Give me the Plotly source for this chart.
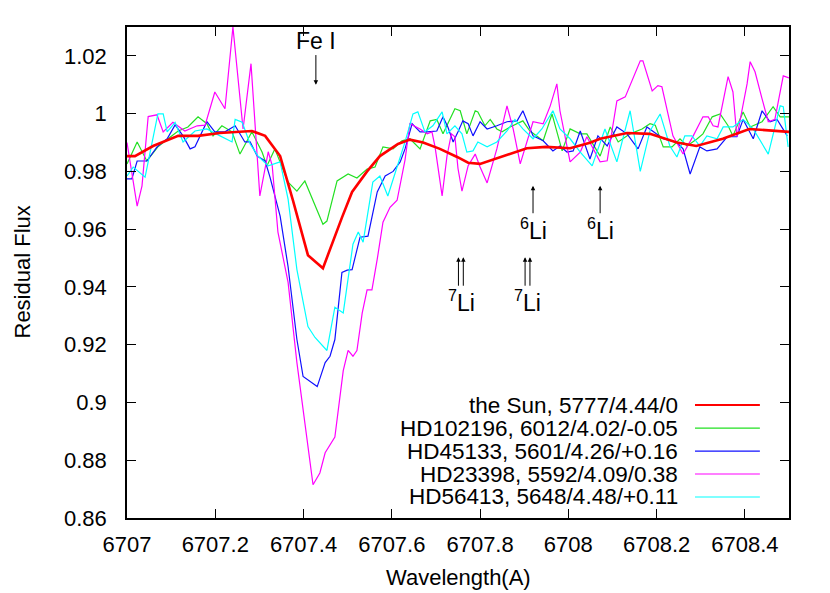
import plotly.graph_objects as go

# ---------------- data (wavelength [A], residual flux) ----------------
sun = [(6707.000, 0.9853), (6707.018, 0.9853), (6707.059, 0.9888), (6707.116, 0.9923),
       (6707.161, 0.9923), (6707.210, 0.9933), (6707.283, 0.9940), (6707.313, 0.9923),
       (6707.347, 0.9853), (6707.376, 0.9700), (6707.410, 0.9510), (6707.444, 0.9465),
       (6707.487, 0.9640), (6707.510, 0.9729), (6707.544, 0.9800), (6707.573, 0.9853),
       (6707.614, 0.9895), (6707.641, 0.9910), (6707.671, 0.9900), (6707.709, 0.9878),
       (6707.748, 0.9850), (6707.773, 0.9830), (6707.800, 0.9826), (6707.845, 0.9850),
       (6707.906, 0.9880), (6707.950, 0.9885), (6708.004, 0.9880), (6708.049, 0.9899),
       (6708.072, 0.9913), (6708.133, 0.9933), (6708.185, 0.9930), (6708.246, 0.9900),
       (6708.290, 0.9888), (6708.350, 0.9913), (6708.410, 0.9947), (6708.500, 0.9937)]

hd102196 = [(6707.000, 0.9826), (6707.023, 0.9902), (6707.045, 0.9836), (6707.070, 0.9885),
            (6707.093, 0.9913), (6707.116, 0.9940), (6707.138, 0.9954), (6707.161, 0.9989),
            (6707.181, 0.9965), (6707.195, 0.9923), (6707.215, 0.9958), (6707.238, 0.9937),
            (6707.256, 0.9860), (6707.283, 0.9937), (6707.306, 0.9867), (6707.317, 0.9819),
            (6707.335, 0.9878), (6707.365, 0.9763), (6707.385, 0.9732), (6707.403, 0.9767),
            (6707.444, 0.9617), (6707.453, 0.9628), (6707.476, 0.9767), (6707.501, 0.9791),
            (6707.521, 0.9777), (6707.544, 0.9808), (6707.562, 0.9815), (6707.580, 0.9885),
            (6707.603, 0.9878), (6707.623, 0.9906), (6707.641, 0.9913), (6707.664, 0.9878),
            (6707.687, 0.9975), (6707.702, 0.9980), (6707.716, 0.9930), (6707.743, 1.0017),
            (6707.755, 1.0010), (6707.770, 0.9930), (6707.789, 1.0010), (6707.795, 1.0006),
            (6707.811, 0.9958), (6707.823, 0.9980), (6707.838, 0.9947), (6707.850, 0.9937),
            (6707.868, 0.9954), (6707.897, 0.9975), (6707.913, 0.9940), (6707.943, 0.9906),
            (6707.963, 0.9999), (6707.986, 0.9871), (6708.004, 0.9947), (6708.027, 0.9930),
            (6708.042, 0.9930), (6708.072, 0.9853), (6708.095, 0.9954), (6708.113, 0.9902),
            (6708.140, 0.9930), (6708.167, 0.9947), (6708.185, 0.9965), (6708.197, 0.9960),
            (6708.215, 0.9885), (6708.235, 0.9885), (6708.253, 0.9913), (6708.269, 0.9888),
            (6708.292, 0.9913), (6708.305, 0.9930), (6708.326, 0.9989), (6708.344, 0.9999),
            (6708.362, 0.9958), (6708.373, 0.9923), (6708.396, 1.0006), (6708.412, 0.9954),
            (6708.439, 0.9972), (6708.464, 1.0024), (6708.480, 0.9989), (6708.500, 0.9989)]

hd45133 = [(6707.000, 0.9774), (6707.011, 0.9774), (6707.023, 0.9836), (6707.045, 0.9836),
           (6707.068, 0.9885), (6707.091, 0.9913), (6707.109, 0.9961), (6707.127, 0.9923),
           (6707.143, 0.9878), (6707.154, 0.9885), (6707.181, 0.9972), (6707.199, 0.9937),
           (6707.222, 0.9937), (6707.245, 0.9958), (6707.267, 0.9902), (6707.279, 0.9902),
           (6707.295, 0.9853), (6707.313, 0.9836), (6707.324, 0.9780), (6707.347, 0.9645),
           (6707.365, 0.9470), (6707.385, 0.9218), (6707.399, 0.9090), (6707.431, 0.9055),
           (6707.449, 0.9138), (6707.460, 0.9160), (6707.471, 0.9218), (6707.487, 0.9450),
           (6707.499, 0.9458), (6707.510, 0.9460), (6707.528, 0.9572), (6707.546, 0.9576),
           (6707.567, 0.9729), (6707.585, 0.9784), (6707.603, 0.9800), (6707.619, 0.9833),
           (6707.630, 0.9878), (6707.646, 0.9965), (6707.664, 0.9937), (6707.680, 0.9937),
           (6707.702, 0.9940), (6707.716, 0.9989), (6707.727, 0.9954), (6707.739, 0.9902),
           (6707.750, 0.9937), (6707.761, 0.9975), (6707.773, 0.9965), (6707.784, 0.9923),
           (6707.800, 0.9972), (6707.816, 0.9947), (6707.838, 0.9958), (6707.861, 0.9972),
           (6707.884, 0.9975), (6707.897, 1.0010), (6707.920, 0.9923), (6707.943, 0.9906),
           (6707.965, 0.9871), (6707.981, 0.9888), (6707.997, 0.9867), (6708.011, 0.9871),
           (6708.027, 0.9940), (6708.049, 0.9843), (6708.067, 0.9923), (6708.088, 0.9888),
           (6708.110, 0.9954), (6708.133, 0.9930), (6708.158, 0.9878), (6708.178, 0.9954),
           (6708.215, 0.9913), (6708.246, 0.9900), (6708.260, 0.9878), (6708.276, 0.9791),
           (6708.298, 0.9885), (6708.314, 0.9871), (6708.337, 0.9878), (6708.360, 0.9920),
           (6708.382, 0.9920), (6708.396, 0.9980), (6708.419, 0.9913), (6708.439, 1.0010),
           (6708.457, 0.9972), (6708.473, 0.9980), (6708.496, 0.9923)]

hd23398 = [(6707.000, 0.9900), (6707.023, 0.9680), (6707.034, 0.9750), (6707.048, 0.9990),
           (6707.068, 0.9996), (6707.082, 0.9937), (6707.104, 0.9970), (6707.131, 0.9940),
           (6707.159, 0.9958), (6707.177, 0.9960), (6707.199, 1.0075), (6707.222, 1.0017),
           (6707.240, 1.0300), (6707.263, 0.9947), (6707.281, 1.0173), (6707.301, 0.9715),
           (6707.320, 0.9868), (6707.329, 0.9820), (6707.342, 0.9590), (6707.365, 0.9416),
           (6707.385, 0.9138), (6707.4215, 0.8715), (6707.437, 0.8756), (6707.449, 0.8826),
           (6707.471, 0.8880), (6707.490, 0.9110), (6707.501, 0.9180), (6707.512, 0.9160),
           (6707.521, 0.9180), (6707.533, 0.9310), (6707.544, 0.9390), (6707.555, 0.9390),
           (6707.567, 0.9496), (6707.580, 0.9624), (6707.596, 0.9676), (6707.612, 0.9700),
           (6707.630, 0.9840), (6707.641, 0.9965), (6707.664, 0.9947), (6707.680, 0.9930),
           (6707.691, 0.9937), (6707.698, 0.9885), (6707.714, 0.9715), (6707.725, 0.9853),
           (6707.735, 0.9930), (6707.743, 0.9920), (6707.750, 0.9810), (6707.759, 0.9732),
           (6707.773, 0.9820), (6707.789, 0.9860), (6707.800, 0.9815), (6707.816, 0.9760),
           (6707.838, 0.9878), (6707.861, 1.0027), (6707.875, 0.9947), (6707.891, 0.9826),
           (6707.920, 0.9972), (6707.943, 0.9965), (6707.959, 1.0027), (6707.974, 1.0103),
           (6707.981, 1.0010), (6708.004, 0.9833), (6708.027, 0.9867), (6708.042, 0.9920),
           (6708.072, 0.9833), (6708.088, 0.9837), (6708.110, 1.0044), (6708.129, 1.0058),
           (6708.163, 1.0183), (6708.169, 1.0183), (6708.190, 1.0079), (6708.203, 1.0097),
           (6708.212, 1.0093), (6708.237, 0.9923), (6708.260, 0.9860), (6708.283, 0.9923),
           (6708.305, 0.9989), (6708.317, 0.9989), (6708.328, 0.9958), (6708.339, 0.9954),
           (6708.362, 1.0128), (6708.373, 1.0075), (6708.382, 0.9920), (6708.405, 1.0103),
           (6708.412, 1.0180), (6708.423, 1.0145), (6708.439, 1.0051), (6708.453, 0.9972),
           (6708.468, 0.9980), (6708.487, 1.0131), (6708.500, 1.0124)]

hd56413 = [(6707.000, 0.9784), (6707.014, 0.9815), (6707.041, 0.9780), (6707.070, 0.9999),
           (6707.082, 0.9999), (6707.091, 0.9937), (6707.109, 0.9970), (6707.127, 0.9902),
           (6707.154, 0.9940), (6707.181, 0.9947), (6707.211, 0.9923), (6707.238, 0.9902),
           (6707.245, 0.9980), (6707.261, 0.9970), (6707.279, 0.9895), (6707.297, 0.9853),
           (6707.320, 0.9819), (6707.347, 0.9833), (6707.365, 0.9704), (6707.385, 0.9460),
           (6707.410, 0.9263), (6707.426, 0.9225), (6707.453, 0.9180), (6707.471, 0.9330),
           (6707.490, 0.9310), (6707.512, 0.9548), (6707.524, 0.9590), (6707.535, 0.9555),
           (6707.557, 0.9763), (6707.573, 0.9784), (6707.591, 0.9715), (6707.612, 0.9815),
           (6707.630, 0.9902), (6707.648, 0.9999), (6707.659, 1.0006), (6707.675, 0.9937),
           (6707.693, 0.9958), (6707.714, 1.0006), (6707.725, 0.9930), (6707.743, 0.9958),
           (6707.759, 0.9930), (6707.770, 0.9867), (6707.784, 0.9871), (6707.795, 0.9902),
           (6707.816, 0.9885), (6707.838, 0.9902), (6707.861, 0.9940), (6707.879, 0.9980),
           (6707.897, 0.9947), (6707.920, 0.9913), (6707.940, 0.9947), (6707.965, 1.0010),
           (6707.981, 0.9947), (6708.004, 0.9913), (6708.027, 0.9867), (6708.054, 0.9819),
           (6708.083, 0.9947), (6708.110, 0.9833), (6708.140, 1.0010), (6708.163, 0.9800),
           (6708.185, 0.9940), (6708.208, 0.9999), (6708.230, 0.9888), (6708.246, 0.9850),
           (6708.264, 0.9923), (6708.280, 0.9923), (6708.298, 0.9888), (6708.314, 0.9923),
           (6708.337, 0.9913), (6708.351, 0.9954), (6708.373, 0.9954), (6708.396, 0.9980),
           (6708.419, 0.9947), (6708.453, 0.9860), (6708.480, 1.0027), (6708.487, 1.0024),
           (6708.498, 0.9885)]

series_names = ["the Sun, 5777/4.44/0", "HD102196, 6012/4.02/-0.05",
                "HD45133, 5601/4.26/+0.16", "HD23398, 5592/4.09/0.38",
                "HD56413, 5648/4.48/+0.11"]
series_data = [sun, hd102196, hd45133, hd23398, hd56413]
series_colors = ["#ff0000", "#22e022", "#1010ff", "#ff00ff", "#00ffff"]
series_widths = [2.6, 1.2, 1.2, 1.2, 1.2]

x_ticks = [6707, 6707.2, 6707.4, 6707.6, 6707.8, 6708, 6708.2, 6708.4]
x_ticktext = ["6707", "6707.2", "6707.4", "6707.6", "6707.8", "6708", "6708.2", "6708.4"]
y_ticks = [0.86, 0.88, 0.90, 0.92, 0.94, 0.96, 0.98, 1.00, 1.02]
y_ticktext = ["0.86", "0.88", "0.9", "0.92", "0.94", "0.96", "0.98", "1", "1.02"]

# line identifications
fe_line = 6707.428
li6_lines = [6707.920, 6708.072]
li7_lines = [6707.751, 6707.762, 6707.902, 6707.913]
li7_labels = [6707.757, 6707.908]

FONT = "Liberation Sans, Arial, Helvetica, sans-serif"
FS = 23

fig = go.Figure()
# draw noisy stars first, Sun on top
for i in [1, 2, 3, 4, 0]:
    wl = [p[0] for p in series_data[i]]
    fl = [p[1] for p in series_data[i]]
    fig.add_trace(go.Scatter(x=wl, y=fl, mode="lines", name=series_names[i],
                             line=dict(color=series_colors[i], width=series_widths[i]),
                             showlegend=False, hoverinfo="skip"))

annotations = []
shapes = []

# manual gnuplot-style key (text right, sample line left)
legend_rows = [0.230, 0.183, 0.136, 0.0896, 0.0428]
for name, col, w, yy in zip(series_names, series_colors, series_widths, legend_rows):
    annotations.append(dict(xref="paper", yref="paper", x=0.835, y=yy, text=name,
                            showarrow=False, xanchor="right", yanchor="middle",
                            font=dict(size=FS - 0.5, family=FONT, color="black")))
    shapes.append(dict(type="line", xref="paper", yref="paper", x0=0.858, x1=0.956,
                       y0=yy, y1=yy, line=dict(color=col, width=max(w - 0.6, 1.2))))

# Fe I
annotations.append(dict(x=fe_line, y=1.0253, text="Fe I", showarrow=False,
                        xanchor="center", yanchor="middle",
                        font=dict(size=FS, family=FONT, color="black")))
annotations.append(dict(x=fe_line, y=1.0100, ax=fe_line, ay=1.0208, axref="x", ayref="y",
                        text="", showarrow=True, arrowhead=2, arrowsize=0.9,
                        arrowwidth=1, arrowcolor="black"))
# 6Li
for xv in li6_lines:
    annotations.append(dict(x=xv, y=0.9750, ax=xv, ay=0.9650, axref="x", ayref="y",
                            text="", showarrow=True, arrowhead=2, arrowsize=0.9,
                            arrowwidth=1, arrowcolor="black"))
    annotations.append(dict(x=xv, y=0.9600, text="<sup>6</sup>Li", showarrow=False,
                            xanchor="center", yanchor="middle",
                            font=dict(size=FS, family=FONT, color="black")))
# 7Li
for xv in li7_lines:
    annotations.append(dict(x=xv, y=0.9503, ax=xv, ay=0.9399, axref="x", ayref="y",
                            text="", showarrow=True, arrowhead=2, arrowsize=0.9,
                            arrowwidth=1, arrowcolor="black"))
for xv in li7_labels:
    annotations.append(dict(x=xv, y=0.9350, text="<sup>7</sup>Li", showarrow=False,
                            xanchor="center", yanchor="middle",
                            font=dict(size=FS, family=FONT, color="black")))

# axis titles
annotations.append(dict(xref="paper", yref="paper", x=0.5, y=-0.122, text="Wavelength(A)",
                        showarrow=False, xanchor="center", yanchor="middle",
                        font=dict(size=FS - 1, family=FONT, color="black")))
annotations.append(dict(xref="paper", yref="paper", x=-0.1586, y=0.5, text="Residual Flux",
                        showarrow=False, xanchor="center", yanchor="middle", textangle=-90,
                        font=dict(size=FS - 1, family=FONT, color="black")))

fig.update_layout(
    width=830, height=593,
    margin=dict(l=127, r=41, t=27, b=75),
    plot_bgcolor="white", paper_bgcolor="white",
    showlegend=False,
    font=dict(family=FONT, size=FS - 1, color="black"),
    annotations=annotations, shapes=shapes,
    xaxis=dict(range=[6707, 6708.5], tickvals=x_ticks, ticktext=x_ticktext,
               ticks="inside", ticklen=9, tickwidth=1.2, tickcolor="black",
               showline=True, linecolor="black", linewidth=1.5, mirror="ticks",
               showgrid=False, zeroline=False, ticklabelstandoff=6),
    yaxis=dict(range=[0.86, 1.03], tickvals=y_ticks, ticktext=y_ticktext,
               ticks="inside", ticklen=9, tickwidth=1.2, tickcolor="black",
               showline=True, linecolor="black", linewidth=1.5, mirror="ticks",
               showgrid=False, zeroline=False, ticklabelstandoff=14),
)

fig.write_html("out.html", config={"displayModeBar": False},
               post_script="document.body.style.margin='0px';document.body.style.overflow='hidden';")
